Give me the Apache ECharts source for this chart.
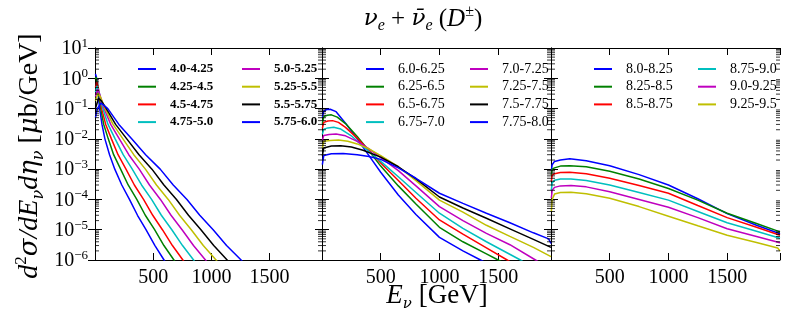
<!DOCTYPE html>
<html><head><meta charset="utf-8">
<script src="https://cdn.jsdelivr.net/npm/echarts@6/dist/echarts.min.js"></script>
<style>html,body{margin:0;padding:0;background:#fff}#c{width:789px;height:333px}</style>
</head><body><div id="c"></div>
<script>
// ---------- data (E in GeV, value in μb/GeV) ----------
const names1 = ["4.0-4.25","4.25-4.5","4.5-4.75","4.75-5.0","5.0-5.25","5.25-5.5","5.5-5.75","5.75-6.0"];
const names2 = ["6.0-6.25","6.25-6.5","6.5-6.75","6.75-7.0","7.0-7.25","7.25-7.5","7.5-7.75","7.75-8.0"];
const names3 = ["8.0-8.25","8.25-8.5","8.5-8.75","8.75-9.0","9.0-9.25","9.25-9.5"];
const colors = ["#0000ff","#008000","#ff0000","#00bfbf","#bf00bf","#bfbf00","#000000","#0000ff"];
const xTicks = [500, 1000, 1500];
const decades = [-6,-5,-4,-3,-2,-1,0];
const minorMult = [2,3,4,5,6,7,8,9];

// panel 1
const p1_0 = [[4,1.4],[12,1.1],[25,0.35],[40,0.1],[60,0.03],[85,0.01],[125,3e-3],[170,1e-3],[230,3e-4],[296,1e-4],[365,3e-5],[438,1e-5],[515,3e-6],[593,1e-6],[640,5e-7]];
const p1_1 = [[4,0.9],[10,1.1],[25,0.45],[49,0.1],[75,0.03],[114,0.01],[160,3e-3],[220,1e-3],[285,3e-4],[359,1e-4],[432,3e-5],[512,1e-5],[592,3e-6],[678,1e-6],[730,5e-7]];
const p1_2 = [[4,0.5],[15,0.76],[30,0.45],[57,0.1],[92,0.03],[141,0.01],[198,3e-3],[266,1e-3],[338,3e-4],[417,1e-4],[496,3e-5],[579,1e-5],[665,3e-6],[755,1e-6],[810,5e-7]];
const p1_3 = [[4,0.35],[18,0.56],[35,0.35],[67,0.1],[112,0.03],[173,0.01],[242,3e-3],[320,1e-3],[400,3e-4],[486,1e-4],[570,3e-5],[660,1e-5],[752,3e-6],[847,1e-6],[900,5e-7]];
const p1_4 = [[4,0.25],[22,0.44],[40,0.3],[78,0.1],[135,0.03],[209,0.01],[290,3e-3],[380,1e-3],[468,3e-4],[562,1e-4],[653,3e-5],[748,1e-5],[846,3e-6],[949,1e-6],[1010,5e-7]];
const p1_5 = [[4,0.18],[25,0.32],[45,0.25],[87,0.1],[155,0.03],[240,0.01],[333,3e-3],[433,1e-3],[528,3e-4],[629,1e-4],[726,3e-5],[827,1e-5],[930,3e-6],[1040,1e-6],[1100,5e-7]];
const p1_6 = [[4,0.1],[30,0.22],[55,0.18],[97,0.1],[177,0.03],[273,0.01],[378,3e-3],[489,1e-3],[592,3e-4],[700,1e-4],[803,3e-5],[910,1e-5],[1020,3e-6],[1135,1e-6],[1200,5e-7]];
const p1_7 = [[4,0.05],[20,0.1],[50,0.15],[75,0.13],[110,0.1],[205,0.03],[315,0.01],[435,3e-3],[560,1e-3],[672,3e-4],[790,1e-4],[900,3e-5],[1015,1e-5],[1130,3e-6],[1255,1e-6],[1320,5e-7]];

// panel 2
const p2_0 = [[3,5.0e-2],[15,8.3e-2],[40,9.3e-2],[70,9.5e-2],[120,7.9e-2],[200,3.3e-2],[300,1.0e-2],[400,2.8e-3],[500,7.9e-4],[650,1.4e-4],[800,3.2e-5],[1000,5.6e-6],[1200,2.0e-6],[1350,1.0e-6],[1400,7.9e-7]];
const p2_1 = [[3,3.2e-2],[15,5.4e-2],[45,6.0e-2],[80,6.2e-2],[130,5.2e-2],[200,3.2e-2],[300,1.2e-2],[400,4.0e-3],[500,1.26e-3],[650,2.8e-4],[800,7.1e-5],[1000,1.2e-5],[1200,4.0e-6],[1400,1.6e-6],[1500,1.0e-6],[1550,7.9e-7]];
const p2_2 = [[3,2.2e-2],[15,3.5e-2],[50,3.9e-2],[90,4.0e-2],[140,3.5e-2],[200,2.4e-2],[300,1.05e-2],[400,4.2e-3],[500,1.6e-3],[650,4.2e-4],[800,1.1e-4],[1000,2.1e-5],[1200,7.1e-6],[1400,2.5e-6],[1577,1.0e-6],[1620,7.9e-7]];
const p2_3 = [[3,1.4e-2],[15,2.1e-2],[50,2.3e-2],[100,2.4e-2],[160,2.1e-2],[250,1.26e-2],[350,5.6e-3],[500,1.8e-3],[650,5.6e-4],[800,1.7e-4],[1000,3.5e-5],[1200,1.1e-5],[1400,4.0e-6],[1690,1.0e-6],[1730,7.9e-7]];
const p2_4 = [[3,8.9e-3],[15,1.3e-2],[60,1.4e-2],[120,1.45e-2],[200,1.26e-2],[300,8.3e-3],[400,4.7e-3],[500,2.4e-3],[650,8.9e-4],[800,2.8e-4],[1000,5.8e-5],[1200,2.0e-5],[1400,7.6e-6],[1600,3.2e-6],[1818,1.0e-6],[1860,7.9e-7]];
const p2_5 = [[3,5.0e-3],[15,8.3e-3],[70,8.9e-3],[140,9.1e-3],[220,8.3e-3],[300,6.8e-3],[400,4.7e-3],[500,2.8e-3],[650,1.2e-3],[800,4.2e-4],[1000,9.5e-5],[1200,3.8e-5],[1400,1.4e-5],[1600,6.0e-6],[1800,2.6e-6],[1950,1.3e-6]];
const p2_6 = [[3,2.8e-3],[15,5.0e-3],[80,5.8e-3],[160,5.9e-3],[250,5.4e-3],[350,4.2e-3],[500,2.5e-3],[650,1.2e-3],[800,4.8e-4],[1000,1.2e-4],[1200,5.2e-5],[1400,2.4e-5],[1600,1.07e-5],[1800,4.8e-6],[1950,2.6e-6]];
const p2_7 = [[3,1.4e-3],[15,2.8e-3],[80,3.2e-3],[180,3.3e-3],[300,3.0e-3],[400,2.6e-3],[500,2.1e-3],[650,1.1e-3],[800,5.0e-4],[1000,1.6e-4],[1200,7.4e-5],[1400,3.5e-5],[1600,1.7e-5],[1800,7.9e-6],[1930,5.0e-6],[1950,3.5e-6]];

// panel 3
const p3_0 = [[3,8.9e-4],[10,1.4e-3],[30,1.8e-3],[80,2.0e-3],[160,2.2e-3],[300,1.9e-3],[500,1.3e-3],[750,6.6e-4],[1000,3.0e-4],[1250,1.05e-4],[1500,3.4e-5],[1750,1.4e-5],[1950,7.4e-6]];
const p3_1 = [[3,6.3e-4],[10,1.0e-3],[30,1.1e-3],[80,1.26e-3],[160,1.3e-3],[300,1.2e-3],[500,8.5e-4],[750,4.7e-4],[1000,2.3e-4],[1250,9.5e-5],[1500,3.5e-5],[1750,1.6e-5],[1950,8.5e-6]];
const p3_2 = [[3,4.0e-4],[10,6.3e-4],[30,7.1e-4],[80,7.8e-4],[160,7.9e-4],[300,7.1e-4],[500,5.0e-4],[750,2.9e-4],[1000,1.6e-4],[1250,6.3e-5],[1500,2.5e-5],[1750,1.2e-5],[1950,6.6e-6]];
const p3_3 = [[3,2.0e-4],[10,3.5e-4],[30,4.3e-4],[80,4.7e-4],[170,4.7e-4],[300,4.2e-4],[500,3.0e-4],[750,1.7e-4],[1000,9.5e-5],[1250,4.0e-5],[1500,1.7e-5],[1750,8.9e-6],[1950,5.2e-6]];
const p3_4 = [[3,1.1e-4],[10,2.0e-4],[30,2.5e-4],[80,2.8e-4],[170,2.9e-4],[300,2.6e-4],[500,1.8e-4],[750,1.0e-4],[1000,5.5e-5],[1250,2.5e-5],[1500,1.07e-5],[1750,6.0e-6],[1950,3.7e-6]];
const p3_5 = [[3,4.0e-5],[10,1.0e-4],[30,1.5e-4],[80,1.7e-4],[170,1.74e-4],[300,1.55e-4],[500,1.1e-4],[750,5.8e-5],[1000,2.8e-5],[1250,1.35e-5],[1500,6.6e-6],[1750,3.8e-6],[1930,2.5e-6],[1950,2.0e-6]];

const panels = [
  {names: names1, data: [p1_0,p1_1,p1_2,p1_3,p1_4,p1_5,p1_6,p1_7], bold: true},
  {names: names2, data: [p2_0,p2_1,p2_2,p2_3,p2_4,p2_5,p2_6,p2_7], bold: false},
  {names: names3, data: [p3_0,p3_1,p3_2,p3_3,p3_4,p3_5], bold: false}
];

// ---------- layout ----------
const SERIF = "'Liberation Serif', 'DejaVu Serif', serif";
const GREEK = "'DejaVu Serif', serif";
const gridBoxes = [{left:95,width:227},{left:322,width:229},{left:551,width:229}];
const legendPos = [[133,237],[361,465],[589,693]];
const TOP = 48, H = 212, XMAX = 1950;

function logLabel(v){
  const e = Math.round(Math.log10(v));
  return '{b|10}{s|' + String(e).replace('-', '\u2212') + '}';
}
// log minor tick positions (axis decoration, not data)
const minorVals = [];
decades.forEach(d => minorMult.forEach(m => minorVals.push(m * Math.pow(10, d))));

const grids=[], xAxes=[], yAxes=[], series=[], legends=[];
panels.forEach((p, i) => {
  grids.push({left: gridBoxes[i].left, top: TOP, width: gridBoxes[i].width, height: H, containLabel:false});
  const xBase = {gridIndex:i, type:'value', min:0, max:XMAX, interval:500,
    axisLine:{show:true, lineStyle:{color:'#000', width:1}},
    axisTick:{show:true, inside:true, length:7, lineStyle:{color:'#000'}},
    splitLine:{show:false}};
  xAxes.push(Object.assign({}, xBase, {position:'bottom',
    axisLabel:{show:true, margin:8, color:'#000', fontSize:20, fontFamily:SERIF,
      formatter: v => xTicks.includes(v) ? String(v) : ''}}));
  xAxes.push(Object.assign({}, xBase, {position:'top', axisLabel:{show:false}}));
  const yBase = {gridIndex:i, type:'log', logBase:10, min:1e-6, max:10, splitNumber:7,
    axisLine:{show:true, lineStyle:{color:'#000', width:1}},
    axisTick:{show:true, inside:true, length:7, lineStyle:{color:'#000'}},
    minorTick:{show:false},
    splitLine:{show:false}, minorSplitLine:{show:false}};
  yAxes.push(Object.assign({}, yBase, {position:'left',
    axisLabel:{show: i===0, margin:7, color:'#000', formatter: logLabel,
      rich:{b:{fontSize:20, fontFamily:SERIF, color:'#000', lineHeight:22, verticalAlign:'bottom'},
            s:{fontSize:13, fontFamily:SERIF, color:'#000', lineHeight:22, verticalAlign:'top', padding:[0,0,7,0]}}}}));
  yAxes.push(Object.assign({}, yBase, {position:'right', axisLabel:{show:false}}));
  p.names.forEach((nm, k) => {
    series.push({name:nm, type:'line', xAxisIndex:2*i, yAxisIndex:2*i, data:p.data[k],
      showSymbol:false, symbol:'none', smooth:false, clip:true, animation:false,
      lineStyle:{color:colors[k], width:1.5}, itemStyle:{color:colors[k]}});
  });
  // log minor ticks on left and right spines
  [[0, [2,0]], [XMAX, [-2,0]]].forEach(([xv, off]) => {
    series.push({type:'scatter', xAxisIndex:2*i, yAxisIndex:2*i, silent:true, clip:false,
      data: minorVals.map(v => [xv, v]), symbol:'rect', symbolSize:[4,1], symbolOffset:off,
      itemStyle:{color:'#000'}, animation:false, z:5});
  });
  const half = Math.ceil(p.names.length / 2);
  [p.names.slice(0,half), p.names.slice(half)].forEach((col, c) => {
    legends.push({data: col, orient:'vertical', left: legendPos[i][c], top:57,
      icon:'rect', itemWidth:18, itemHeight:2, itemGap:3.7, selectedMode:false,
      textStyle:{fontSize: p.bold ? 13 : 14, lineHeight:14, fontFamily:SERIF, color:'#000',
        fontWeight: p.bold ? 'bold' : 'normal', padding:[0,0,0,9]}});
  });
});

const chart = echarts.init(document.getElementById('c'), null, {renderer:'canvas'});
chart.setOption({
  animation:false,
  backgroundColor:'#fff',
  grid: grids, xAxis: xAxes, yAxis: yAxes, series: series, legend: legends,
  graphic: [
    {type:'text', x:423, y:19, style:{
      text:'{g|ν}{sb|e}{r| + }{g|ν\u0304}{sb|e}{r| (}{i|D}{sp|±}{r|)}',
      align:'center', verticalAlign:'middle',
      rich:{
        g:{fontFamily:GREEK, fontStyle:'italic', fontSize:23, lineHeight:30, fill:'#000'},
        i:{fontFamily:SERIF, fontStyle:'italic', fontSize:25, lineHeight:30, fill:'#000'},
        r:{fontFamily:SERIF, fontSize:25, lineHeight:30, fill:'#000'},
        sb:{fontFamily:SERIF, fontStyle:'italic', fontSize:16, lineHeight:18, verticalAlign:'bottom', fill:'#000'},
        sp:{fontFamily:SERIF, fontSize:16, lineHeight:16, verticalAlign:'top', fill:'#000'}
      }}},
    {type:'text', x:437, y:296, style:{
      text:'{i|E}{sb|ν}{r| [GeV]}',
      align:'center', verticalAlign:'middle',
      rich:{
        i:{fontFamily:SERIF, fontStyle:'italic', fontSize:27, lineHeight:32, fill:'#000'},
        r:{fontFamily:SERIF, fontSize:27, lineHeight:32, fill:'#000'},
        sb:{fontFamily:GREEK, fontStyle:'italic', fontSize:15, lineHeight:18, verticalAlign:'bottom', fill:'#000'}
      }}},
    {type:'text', x:30, y:156, rotation:Math.PI/2, style:{
      text:'{i|d}{sp|2}{g|σ}{i|/dE}{sb|ν}{i|d}{g|η}{sb|ν}{r| [}{g|μ}{r|b/GeV]}',
      align:'center', verticalAlign:'middle',
      rich:{
        i:{fontFamily:SERIF, fontStyle:'italic', fontSize:28, lineHeight:34, fill:'#000'},
        g:{fontFamily:GREEK, fontStyle:'italic', fontSize:26, lineHeight:34, fill:'#000'},
        r:{fontFamily:SERIF, fontSize:28, lineHeight:34, fill:'#000'},
        sb:{fontFamily:GREEK, fontStyle:'italic', fontSize:16, lineHeight:18, verticalAlign:'bottom', fill:'#000'},
        sp:{fontFamily:SERIF, fontSize:17, lineHeight:18, verticalAlign:'top', fill:'#000'}
      }}}
  ]
});
</script></body></html>
